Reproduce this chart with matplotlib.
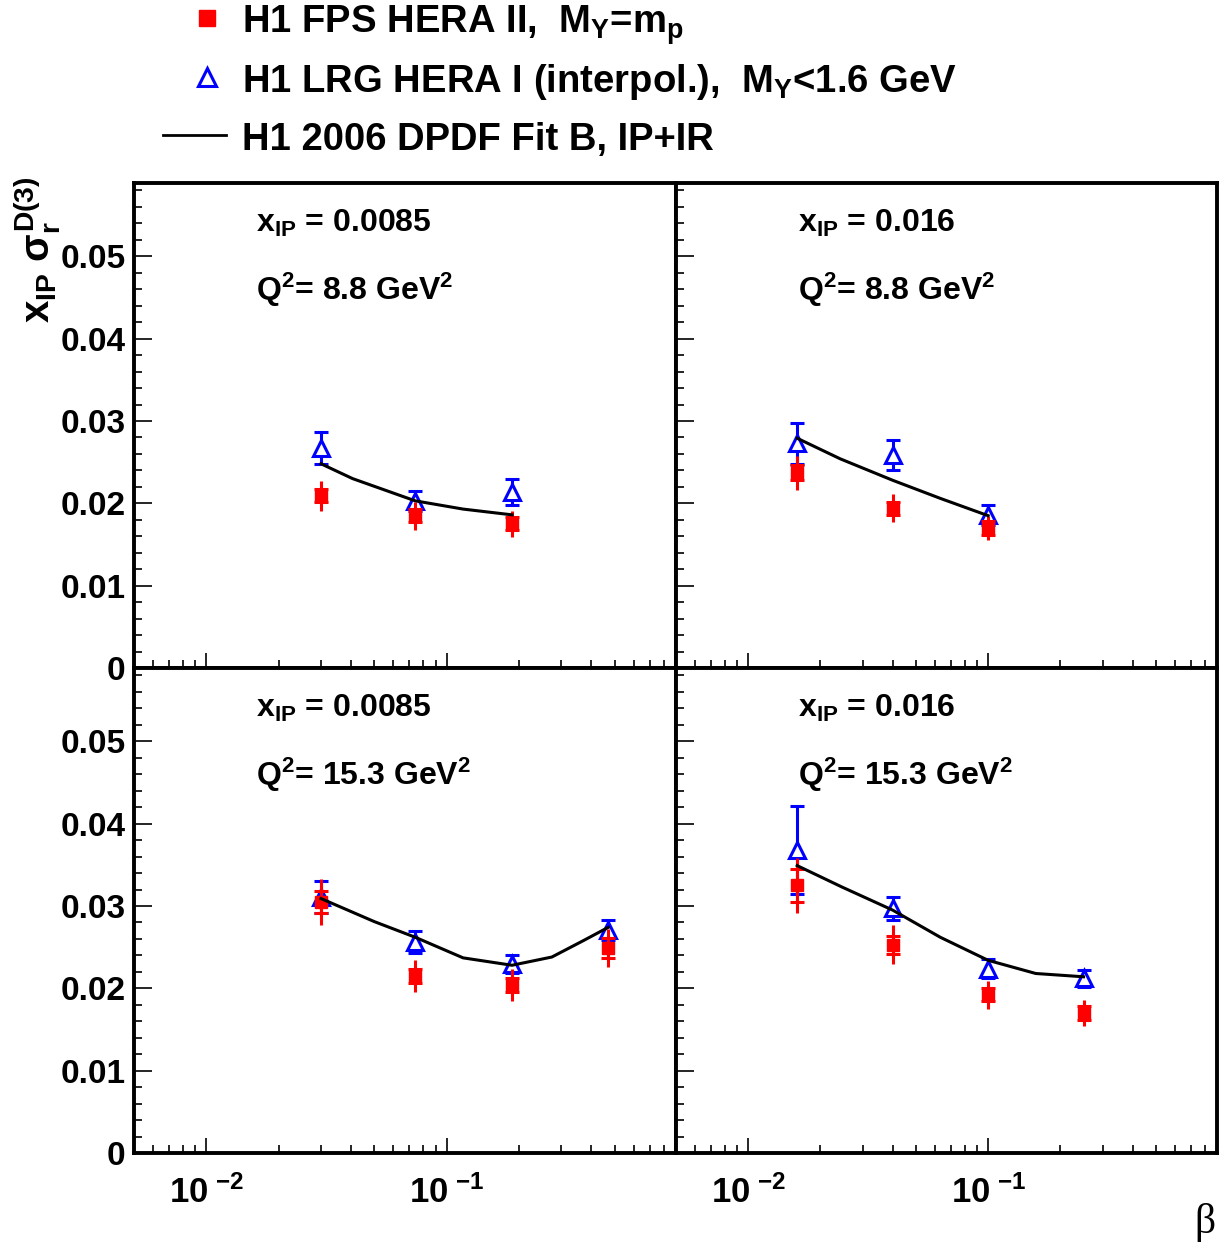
import numpy as np
import matplotlib
matplotlib.use('Agg')
import matplotlib.pyplot as plt
from matplotlib.lines import Line2D
from matplotlib.ticker import FixedLocator, LogLocator, NullFormatter

plt.rcParams['font.family'] = ['Liberation Sans', 'DejaVu Sans']
plt.rcParams['font.weight'] = 'bold'
plt.rcParams['mathtext.fontset'] = 'custom'
plt.rcParams['mathtext.rm'] = 'Liberation Sans:bold'
plt.rcParams['mathtext.it'] = 'Liberation Sans:bold'
plt.rcParams['mathtext.bf'] = 'Liberation Sans:bold'
plt.rcParams['mathtext.sf'] = 'Liberation Sans:bold'

# beta bins for the two x_IP values
beta_lo = [0.03, 0.074, 0.187, 0.47]     # x_IP = 0.0085
beta_hi = [0.016, 0.04, 0.1, 0.25]       # x_IP = 0.016

# H1 FPS HERA II (M_Y = m_p): value, total error, stat error
fps_tl = [0.0209, 0.0185, 0.0175]
fps_tl_tot = [0.0018, 0.0017, 0.0016]
fps_tl_stat = [0.0008, 0.0008, 0.0008]
fps_tr = [0.0237, 0.0194, 0.0170]
fps_tr_tot = [0.0021, 0.0017, 0.0015]
fps_tr_stat = [0.0009, 0.0008, 0.0008]
fps_bl = [0.0305, 0.0215, 0.0204, 0.0249]
fps_bl_tot = [0.0028, 0.0019, 0.0019, 0.0023]
fps_bl_stat = [0.0013, 0.0008, 0.0008, 0.0012]
fps_br = [0.0325, 0.0253, 0.0192, 0.0170]
fps_br_tot = [0.0033, 0.0024, 0.0017, 0.0016]
fps_br_stat = [0.0020, 0.0011, 0.0008, 0.0008]

# H1 LRG HERA I interpolated (M_Y < 1.6 GeV)
lrg_tl = [0.0267, 0.0203, 0.0214]
lrg_tl_err = [0.0019, 0.0012, 0.0016]
lrg_tr = [0.0273, 0.0259, 0.0186]
lrg_tr_err = [0.0025, 0.0018, 0.0012]
lrg_bl = [0.0311, 0.0256, 0.0229, 0.0271]
lrg_bl_err = [0.0019, 0.0013, 0.0011, 0.0012]
lrg_br = [0.0368, 0.0297, 0.0224, 0.0212]
lrg_br_err = [0.0054, 0.0014, 0.0011, 0.0010]

# H1 2006 DPDF Fit B
fit_tl_b = [0.03, 0.0406, 0.074, 0.117, 0.187]
fit_tl = [0.0248, 0.0230, 0.0203, 0.0193, 0.0186]
fit_tr_b = [0.016, 0.0242, 0.04, 0.0632, 0.1]
fit_tr = [0.0279, 0.0254, 0.0228, 0.0206, 0.0185]
fit_bl_b = [0.03, 0.05, 0.074, 0.117, 0.187, 0.274, 0.371, 0.47]
fit_bl = [0.0309, 0.0281, 0.0262, 0.0237, 0.0228, 0.0238, 0.0258, 0.0274]
fit_br_b = [0.016, 0.0246, 0.04, 0.0632, 0.1, 0.158, 0.25]
fit_br = [0.0349, 0.0323, 0.0295, 0.0262, 0.0234, 0.0218, 0.0214]

xpom_labels = ['0.0085', '0.016']
q2_labels = ['8.8', '15.3']
y_ticks = [0, 0.01, 0.02, 0.03, 0.04, 0.05]
y_ticklabels = ['0', '0.01', '0.02', '0.03', '0.04', '0.05']
x_ticks = [0.01, 0.1]
x_ticklabels = [r'10$^{\ \mathbf{-2}}$', r'10$^{\ \mathbf{-1}}$']

W, H = 1232, 1248
fig = plt.figure(figsize=(W / 100, H / 100), dpi=100)


def pix_axes(x0, y0, x1, y1):
    return fig.add_axes([x0 / W, 1 - y1 / H, (x1 - x0) / W, (y1 - y0) / H])


panels = [
    (pix_axes(134, 183, 676, 668), beta_lo[:3], fps_tl, fps_tl_tot, fps_tl_stat,
     lrg_tl, lrg_tl_err, fit_tl_b, fit_tl, 0, 0),
    (pix_axes(676, 183, 1217, 668), beta_hi[:3], fps_tr, fps_tr_tot, fps_tr_stat,
     lrg_tr, lrg_tr_err, fit_tr_b, fit_tr, 1, 0),
    (pix_axes(134, 668, 676, 1153), beta_lo, fps_bl, fps_bl_tot, fps_bl_stat,
     lrg_bl, lrg_bl_err, fit_bl_b, fit_bl, 0, 1),
    (pix_axes(676, 668, 1217, 1153), beta_hi, fps_br, fps_br_tot, fps_br_stat,
     lrg_br, lrg_br_err, fit_br_b, fit_br, 1, 1),
]

red = '#ff0000'
blue = '#0000ff'

for ax, b, fps, fps_tot, fps_stat, lrg, lrg_err, fb, fv, col, row in panels:
    ax.set_xscale('log')
    ax.set_xlim(0.005, 0.9)
    ax.set_ylim(0, 0.0589)

    # FPS points: total error without caps, stat error with small ticks
    ax.errorbar(b, fps, yerr=fps_tot, fmt='none', ecolor=red, elinewidth=2.2, zorder=3)
    ax.errorbar(b, fps, yerr=fps_stat, fmt='none', ecolor=red, elinewidth=2.2,
                capsize=5, capthick=2.2, zorder=3)
    ax.plot(b, fps, 's', color=red, ms=9, zorder=4)

    # LRG points
    ax.errorbar(b, lrg, yerr=lrg_err, fmt='^', color=blue, mfc='white', mec=blue,
                ms=12, mew=2.2, elinewidth=2.2, capsize=5, capthick=2.2, zorder=2)

    ax.plot(fb, fv, '-', color='black', lw=2.2, zorder=5)

    ax.text(0.225, 0.899, r'x$_{IP}$ = ' + xpom_labels[col], transform=ax.transAxes,
            fontsize=23, fontweight='bold', va='baseline')
    ax.text(0.225, 0.759, r'Q$^2$= ' + q2_labels[row] + r' GeV$^2$', transform=ax.transAxes,
            fontsize=23, fontweight='bold', va='baseline')

    for s in ax.spines.values():
        s.set_linewidth(2.8)
    ax.yaxis.set_major_locator(FixedLocator(y_ticks))
    ax.yaxis.set_minor_locator(FixedLocator(np.arange(0.002, 0.0589, 0.002)))
    ax.xaxis.set_major_locator(FixedLocator(x_ticks))
    ax.xaxis.set_minor_locator(LogLocator(base=10, subs=np.arange(2, 10)))
    ax.xaxis.set_minor_formatter(NullFormatter())
    ax.tick_params(which='both', direction='in', top=False, right=False, width=1.2)
    ax.tick_params(which='major', axis='y', length=13)
    ax.tick_params(which='minor', axis='y', length=6)
    ax.tick_params(which='major', axis='x', length=11)
    ax.tick_params(which='minor', axis='x', length=6)
    ax.tick_params(axis='y', labelsize=24, pad=6)
    ax.tick_params(axis='x', labelsize=25, pad=16)

    if col == 0:
        ax.set_yticklabels(y_ticklabels)
    else:
        ax.set_yticklabels([])
    if row == 1:
        ax.set_xticklabels(x_ticklabels)
    else:
        ax.set_xticklabels([])

fig.text(37 / W, 1 - 250 / H, r'x$_{IP}$ $\sigma_r^{D(3)}$', rotation=90,
         ha='center', va='center', fontsize=29, fontweight='bold')
fig.text(1205 / W, 1 - 1222 / H, 'β', family='Liberation Serif', fontweight='normal',
         fontsize=30, ha='center', va='center')

# legend block above the panels
leg = fig.add_axes([0, 0, 1, 1])
leg.set_xlim(0, W)
leg.set_ylim(H, 0)
leg.axis('off')
leg.add_line(Line2D([207], [18], marker='s', color=red, ms=12, ls='none'))
leg.add_line(Line2D([207], [77], marker='^', color=blue, mfc='none', ms=13, mew=2.2, ls='none'))
leg.add_line(Line2D([163, 226], [135, 135], color='black', lw=2))
legend_labels = [r'H1 FPS HERA II,  M$_Y$=m$_p$',
                 r'H1 LRG HERA I (interpol.),  M$_Y$<1.6 GeV',
                 'H1 2006 DPDF Fit B, IP+IR']
for yy, lab in zip([33, 92, 150], legend_labels):
    leg.text(242, yy, lab, fontsize=27.5, fontweight='bold', va='baseline')

fig.savefig('out.png', dpi=100)
